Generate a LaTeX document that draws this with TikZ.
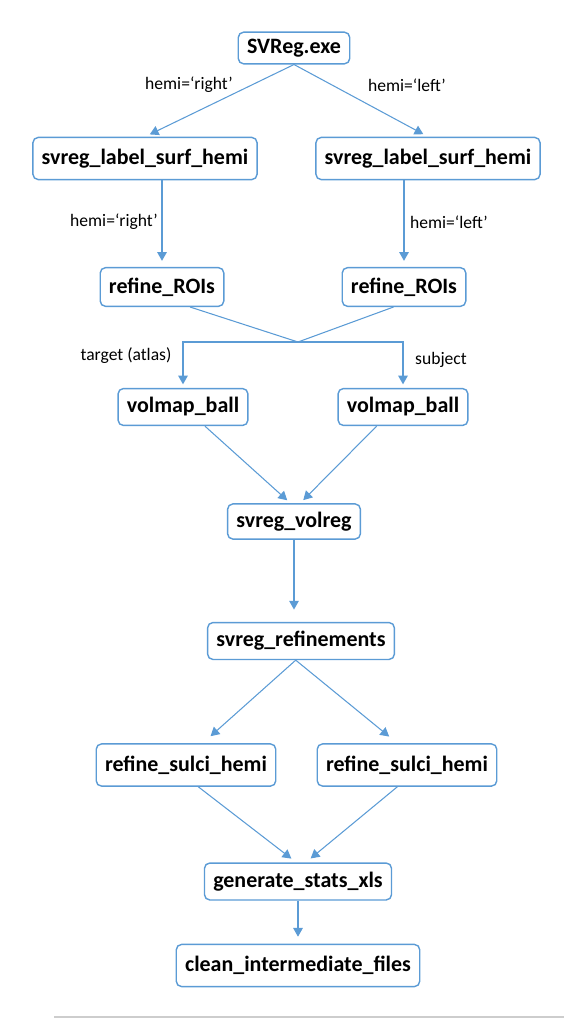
\documentclass[tikz,border=0pt]{standalone}
\usepackage{fontspec}
\setmainfont{Carlito}
\usepackage{tikz}
\usetikzlibrary{arrows.meta, positioning}
\definecolor{flowblue}{RGB}{91,155,213}
\definecolor{rulegray}{RGB}{205,205,205}

\begin{document}
\begin{tikzpicture}[
        x=0.02cm, y=-0.02cm,
        proc/.style={rectangle, rounded corners=3pt, draw=flowblue, line width=0.8pt,
                     fill=white, minimum height=22pt, inner xsep=5pt,
                     font=\fontsize{12.5}{15}\selectfont\bfseries},
        link/.style={-{Triangle[length=5pt, width=5.5pt]}, flowblue, line width=0.6pt,
                     shorten >=3.5pt},
        tag/.style={font=\fontsize{10}{12}\selectfont, inner sep=1pt},
      ]
      \useasboundingbox (0,0) rectangle (574,1024);

      % stages
      \node[proc, minimum height=18pt] (svreg) at (294,48) {SVReg.exe};
      \node[proc, minimum height=24pt] (lsurf) at (145,158.5) {svreg\_label\_surf\_hemi};
      \node[proc, minimum height=24pt] (rsurf) at (428,158.5) {svreg\_label\_surf\_hemi};
      \node[proc] (lroi) at (162,287) {refine\_ROIs};
      \node[proc] (rroi) at (404,287) {refine\_ROIs};
      \node[proc, minimum height=21pt] (lball) at (183,407) {volmap\_ball};
      \node[proc, minimum height=21pt] (rball) at (403,407) {volmap\_ball};
      \node[proc, minimum height=20pt] (volreg) at (294,521.5) {svreg\_volreg};
      \node[proc, minimum height=21pt] (refs) at (301,641) {svreg\_refinements};
      \node[proc, minimum height=24pt] (lsulc) at (186,765) {refine\_sulci\_hemi};
      \node[proc, minimum height=24pt] (rsulc) at (407,765) {refine\_sulci\_hemi};
      \node[proc, minimum height=21pt] (stats) at (298,881.5) {generate\_stats\_xls};
      \node[proc, minimum height=24pt] (clean) at (298,965.5) {clean\_intermediate\_files};
      \coordinate (merge) at (298,342);

      % connectors
      \draw[link, shorten >=3pt] (svreg.south) -- (lsurf.north);
      \draw[link, shorten >=3pt] (svreg.south) -- (rsurf.north);
      \draw[link] (lsurf.south -| lroi.north) -- (lroi.north);
      \draw[link] (rsurf.south -| rroi.north) -- (rroi.north);
      \draw[flowblue, line width=0.6pt] ([xshift=16pt]lroi.south) -- (merge);
      \draw[flowblue, line width=0.6pt] ([xshift=-6pt]rroi.south) -- (merge);
      \draw[link, shorten >=2pt] (merge) -| (lball.north);
      \draw[link, shorten >=2pt] (merge) -| (rball.north);
      \draw[link, shorten >=2.5pt] ([xshift=12.5pt]lball.south) -- ([xshift=-2pt]volreg.north);
      \draw[link, shorten >=2.5pt] ([xshift=-15pt]rball.south) -- ([xshift=3.5pt]volreg.north);
      \draw[link, shorten >=7pt] (volreg.south) -- (volreg.south |- refs.north);
      \draw[link, shorten >=6pt] ([xshift=-3pt]refs.south) -- ([xshift=9.5pt]lsulc.north);
      \draw[link, shorten >=6pt] ([xshift=-3pt]refs.south) -- ([xshift=-5.5pt]rsulc.north);
      \draw[link] ([xshift=7pt]lsulc.south) -- ([xshift=-1pt]stats.north);
      \draw[link] ([xshift=-5.5pt]rsulc.south) -- ([xshift=4.5pt]stats.north);
      \draw[link, shorten >=4pt] (stats.south) -- (stats.south |- clean.north);

      % labels
      \node[tag] (tr1) at (189,85) {hemi=‘right’};
      \node[tag] (tl1) at (407,85) {hemi=‘left’};
      \node[tag] (tr2) at (114,222) {hemi=‘right’};
      \node[tag] (tl2) at (449,222) {hemi=‘left’};
      \node[tag] (atlas) at (126,356) {target (atlas)};
      \node[tag] (subj) at (441,360) {subject};

      % rule at the foot
      \draw[rulegray, line width=0.6pt] (54,1017) -- (564,1017);
    \end{tikzpicture}
\end{document}
